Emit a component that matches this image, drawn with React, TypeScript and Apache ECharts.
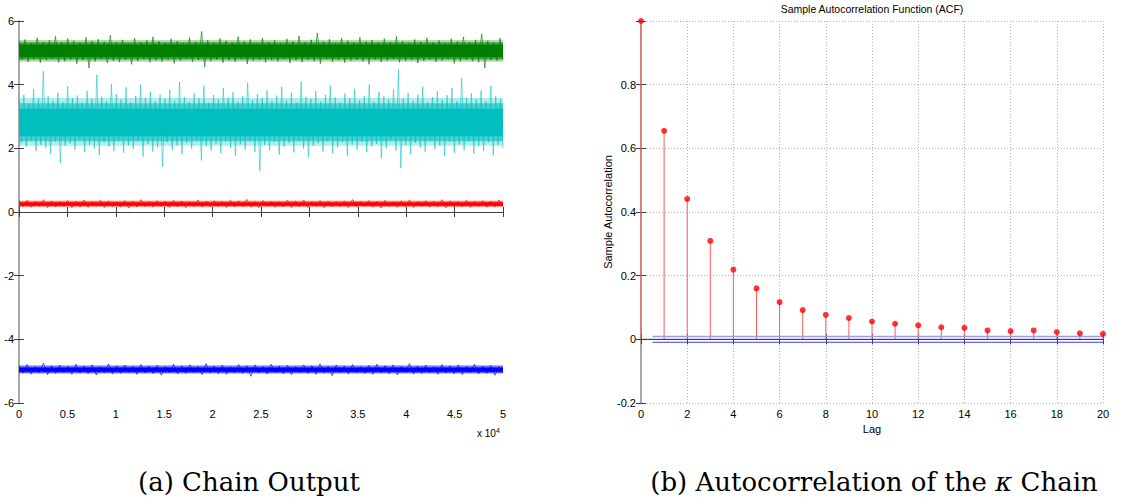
import React, { useEffect, useRef } from "react";
import * as echarts from "echarts";

// ---------- Chain output (a): traces, alternating upper / lower excursions ----------
const chainLength = 50000;
const xTickValues = [0, 0.5, 1, 1.5, 2, 2.5, 3, 3.5, 4, 4.5, 5];

const greenTrace = [
  5.36, 4.78, 5.42, 4.72, 5.31, 4.8, 5.47, 4.69, 5.34, 4.76,
  5.4, 4.81, 5.52, 4.7, 5.33, 4.74, 5.45, 4.79, 5.38, 4.66,
  5.32, 4.77, 5.49, 4.52, 5.37, 4.73, 5.43, 4.8, 5.35, 4.68,
  5.55, 4.75, 5.33, 4.71, 5.41, 4.78, 5.3, 4.64, 5.46, 4.74,
  5.34, 4.8, 5.39, 4.7, 5.5, 4.76, 5.36, 4.73, 5.32, 4.79,
  5.44, 4.67, 5.37, 4.75, 5.31, 4.81, 5.48, 4.72, 5.35, 4.77,
  5.67, 4.55, 5.4, 4.74, 5.33, 4.79, 5.45, 4.69, 5.38, 4.76,
  5.32, 4.72, 5.51, 4.8, 5.36, 4.65, 5.42, 4.75, 5.3, 4.78,
  5.47, 4.7, 5.34, 4.77, 5.39, 4.73, 5.31, 4.81, 5.44, 4.68,
  5.36, 4.76, 5.53, 4.71, 5.33, 4.79, 5.41, 4.74, 5.62, 4.66,
  5.35, 4.8, 5.43, 4.72, 5.3, 4.77, 5.46, 4.69, 5.38, 4.75,
  5.32, 4.78, 5.49, 4.73, 5.36, 4.64, 5.4, 4.79, 5.33, 4.71,
  5.45, 4.76, 5.34, 4.8, 5.52, 4.7, 5.37, 4.74, 5.31, 4.77,
  5.42, 4.68, 5.35, 4.75, 5.47, 4.79, 5.33, 4.72, 5.39, 4.76,
  5.3, 4.8, 5.44, 4.67, 5.36, 4.73, 5.5, 4.78, 5.34, 4.74,
  5.41, 4.7, 5.6, 4.52, 5.38, 4.77, 5.32, 4.75, 5.46, 4.79,
];

const cyanTrace = [
  3.52, 2.18, 3.68, 2.05, 3.41, 2.24, 3.86, 1.92, 3.57, 2.11,
  4.42, 2.02, 3.63, 1.83, 3.49, 2.21, 3.74, 1.54, 3.45, 2.08,
  3.95, 2.16, 3.58, 1.96, 3.66, 2.27, 3.43, 1.88, 3.81, 2.12,
  3.55, 2.0, 4.31, 1.79, 3.62, 2.19, 3.48, 2.06, 4.02, 1.91,
  3.71, 2.23, 3.53, 1.86, 3.92, 2.1, 3.44, 1.98, 3.65, 2.25,
  4.0, 1.74, 3.59, 2.14, 3.78, 1.9, 3.47, 2.03, 3.69, 1.43,
  3.56, 2.2, 3.84, 1.95, 3.5, 2.09, 4.08, 1.81, 3.61, 2.17,
  3.46, 1.99, 3.73, 2.26, 3.58, 1.62, 3.97, 2.07, 3.42, 1.93,
  3.67, 2.15, 3.54, 1.85, 3.89, 2.22, 3.6, 2.01, 3.76, 1.77,
  3.45, 2.13, 3.64, 1.97, 4.05, 2.24, 3.52, 1.89, 3.7, 1.28,
  3.57, 2.11, 3.83, 1.94, 3.48, 2.2, 3.66, 1.8, 3.93, 2.05,
  3.51, 2.18, 3.75, 1.87, 3.44, 2.25, 4.1, 1.99, 3.62, 1.72,
  3.55, 2.08, 3.8, 2.16, 3.47, 1.9, 3.68, 2.23, 3.98, 1.84,
  3.6, 2.03, 3.43, 2.19, 3.72, 1.76, 3.58, 2.12, 3.87, 1.96,
  3.5, 2.21, 3.65, 1.88, 4.0, 2.06, 3.46, 2.14, 3.77, 1.69,
  3.63, 2.0, 3.53, 2.27, 3.85, 1.93, 4.47, 1.38, 3.57, 2.1,
  3.74, 1.82, 3.49, 2.17, 3.69, 2.02, 3.94, 1.89, 3.45, 2.24,
  3.61, 1.97, 3.79, 2.09, 3.52, 1.75, 3.67, 2.2, 3.9, 1.86,
  3.48, 2.13, 4.2, 1.94, 3.59, 2.22, 3.73, 1.83, 3.54, 2.07,
  3.82, 1.92, 3.47, 2.18, 3.96, 1.78, 3.64, 2.11, 3.56, 2.01,
];

const redTrace = [
  0.34, 0.17, 0.37, 0.15, 0.33, 0.18, 0.39, 0.14, 0.35, 0.16,
  0.32, 0.17, 0.36, 0.13, 0.34, 0.16, 0.38, 0.15, 0.33, 0.18,
  0.37, 0.14, 0.35, 0.17, 0.32, 0.15, 0.36, 0.12, 0.34, 0.16,
  0.39, 0.17, 0.33, 0.15, 0.36, 0.18, 0.34, 0.14, 0.37, 0.16,
  0.35, 0.13, 0.32, 0.17, 0.38, 0.15, 0.34, 0.16, 0.36, 0.18,
  0.33, 0.14, 0.37, 0.16, 0.35, 0.17, 0.4, 0.15, 0.33, 0.13,
  0.36, 0.18, 0.34, 0.15, 0.32, 0.16, 0.37, 0.14, 0.35, 0.17,
  0.38, 0.15, 0.33, 0.18, 0.36, 0.13, 0.34, 0.16, 0.32, 0.17,
  0.35, 0.14, 0.39, 0.16, 0.33, 0.18, 0.36, 0.15, 0.34, 0.12,
  0.37, 0.17, 0.32, 0.15, 0.35, 0.16, 0.38, 0.14, 0.33, 0.18,
  0.36, 0.15, 0.34, 0.17, 0.39, 0.13, 0.35, 0.16, 0.32, 0.17,
  0.37, 0.14, 0.33, 0.18, 0.36, 0.15, 0.34, 0.16, 0.38, 0.17,
];

const blueTrace = [
  -4.84, -5.06, -4.79, -5.09, -4.86, -5.05, -4.75, -5.11, -4.83, -5.07,
  -4.81, -5.04, -4.85, -5.1, -4.78, -5.06, -4.84, -5.08, -4.8, -5.12,
  -4.86, -5.05, -4.77, -5.09, -4.83, -5.07, -4.81, -5.04, -4.85, -5.1,
  -4.79, -5.06, -4.84, -5.08, -4.82, -5.13, -4.86, -5.05, -4.78, -5.09,
  -4.83, -5.07, -4.8, -5.04, -4.85, -5.11, -4.76, -5.06, -4.84, -5.08,
  -4.81, -5.1, -4.86, -5.05, -4.79, -5.07, -4.83, -5.16, -4.8, -5.06,
  -4.85, -5.09, -4.78, -5.04, -4.84, -5.08, -4.82, -5.11, -4.86, -5.05,
  -4.8, -5.07, -4.83, -5.1, -4.77, -5.06, -4.85, -5.14, -4.81, -5.04,
  -4.84, -5.09, -4.79, -5.05, -4.86, -5.07, -4.82, -5.1, -4.78, -5.06,
  -4.83, -5.08, -4.8, -5.12, -4.85, -5.04, -4.76, -5.09, -4.84, -5.07,
  -4.81, -5.05, -4.86, -5.1, -4.79, -5.06, -4.83, -5.08, -4.8, -5.11,
  -4.85, -5.04, -4.78, -5.09, -4.84, -5.07, -4.82, -5.13, -4.86, -5.06,
];

// density bands of each trace, outer to inner: [low, high]
const greenBands = [[4.72, 5.4], [4.79, 5.33], [4.86, 5.26]];
const cyanBands = [[2.08, 3.58], [2.22, 3.42], [2.38, 3.24]];
const redBands = [[0.15, 0.36], [0.18, 0.33], [0.2, 0.3]];
const blueBands = [[-5.08, -4.81], [-5.05, -4.85], [-5.02, -4.89]];
const bandOpacity = [0.3, 0.6, 1];

// ---------- ACF (b) ----------
const acfLags = [0, 1, 2, 3, 4, 5, 6, 7, 8, 9, 10, 11, 12, 13, 14, 15, 16, 17, 18, 19, 20];
const acfValues = [
  1.0, 0.655, 0.441, 0.309, 0.219, 0.16, 0.117, 0.092, 0.077, 0.067, 0.056,
  0.049, 0.044, 0.038, 0.036, 0.028, 0.026, 0.028, 0.023, 0.019, 0.017,
];
const confUpper = 0.0088;
const confLower = -0.0092;

const FONT = "'Liberation Sans', Arial, sans-serif";
const SERIF = "'DejaVu Serif', 'Liberation Serif', serif";

function traceData(arr: number[]) {
  return arr.map((v, i) => [(i * chainLength) / (arr.length - 1), v]);
}

function traceSeries(arr: number[], bands: number[][], color: string, opacity: number) {
  return {
    type: "line",
    xAxisIndex: 0,
    yAxisIndex: 0,
    data: traceData(arr),
    symbol: "none",
    lineStyle: { color, width: 1, opacity },
    silent: true,
    markArea: {
      silent: true,
      data: bands.map((b, k) => [
        { xAxis: 0, yAxis: b[0], itemStyle: { color, opacity: bandOpacity[k] } },
        { xAxis: chainLength, yAxis: b[1] },
      ]),
    },
  };
}

const axisDark = "#404040";
const axisLight = "#a8a8a8";

export default function App() {
  const ref = useRef<HTMLDivElement>(null);

  useEffect(() => {
    if (!ref.current) return;
    const chart = echarts.init(ref.current, null, { renderer: "svg" });

    const tickStyle = { show: true, inside: true, length: 5, lineStyle: { color: axisDark } };
    const labelStyle = { color: "#000", fontSize: 11, fontFamily: FONT };

    const option: any = {
      animation: false,
      backgroundColor: "#fff",
      grid: [
        { left: 19, top: 21, width: 484, height: 382 },
        { left: 641, top: 21, width: 462, height: 382 },
      ],
      xAxis: [
        {
          gridIndex: 0, type: "value", min: 0, max: chainLength, interval: 5000, position: "bottom",
          axisLine: { lineStyle: { color: axisDark } }, axisTick: tickStyle,
          axisLabel: { ...labelStyle, margin: 5, formatter: (v: number) => String(xTickValues[Math.round(v / 5000)]) },
          splitLine: { show: false },
        },
        {
          gridIndex: 0, type: "value", min: 0, max: chainLength, interval: 5000, position: "top",
          axisLine: { lineStyle: { color: axisDark } }, axisTick: tickStyle,
          axisLabel: { show: false }, splitLine: { show: false },
        },
        {
          gridIndex: 1, type: "value", min: 0, max: 20, interval: 2, position: "bottom",
          axisLine: { lineStyle: { color: axisDark } }, axisTick: tickStyle,
          axisLabel: { ...labelStyle, margin: 5 },
          splitLine: { show: true, lineStyle: { color: "#b4b4b4", type: [1, 2], width: 1 } },
          name: "Lag", nameLocation: "middle", nameGap: 19,
          nameTextStyle: { color: "#000", fontSize: 11, fontFamily: FONT },
        },
        {
          gridIndex: 1, type: "value", min: 0, max: 20, interval: 2, position: "top",
          axisLine: { lineStyle: { color: axisDark } }, axisTick: tickStyle,
          axisLabel: { show: false }, splitLine: { show: false },
        },
      ],
      yAxis: [
        {
          gridIndex: 0, type: "value", min: -6, max: 6, interval: 2, position: "left",
          axisLine: { lineStyle: { color: axisDark } }, axisTick: tickStyle,
          axisLabel: { ...labelStyle, margin: 5 }, splitLine: { show: false },
        },
        {
          gridIndex: 0, type: "value", min: -6, max: 6, interval: 2, position: "right",
          axisLine: { lineStyle: { color: axisLight, width: 2 } }, axisTick: tickStyle,
          axisLabel: { show: false }, splitLine: { show: false },
        },
        {
          gridIndex: 1, type: "value", min: -0.2, max: 1, interval: 0.2, position: "left",
          axisLine: { lineStyle: { color: axisDark } }, axisTick: tickStyle,
          axisLabel: {
            ...labelStyle, margin: 5,
            formatter: (v: number) => (v > 0.99 ? "" : String(Math.round(v * 10) / 10)),
          },
          splitLine: { show: true, lineStyle: { color: "#b4b4b4", type: [1, 2], width: 1 } },
          name: "Sample Autocorrelation", nameLocation: "middle", nameGap: 26,
          nameTextStyle: { color: "#000", fontSize: 11, fontFamily: FONT },
        },
        {
          gridIndex: 1, type: "value", min: -0.2, max: 1, interval: 0.2, position: "right",
          axisLine: { lineStyle: { color: axisLight, width: 2 } }, axisTick: tickStyle,
          axisLabel: { show: false }, splitLine: { show: false },
        },
      ],
      series: [
        traceSeries(greenTrace, greenBands, "#008000", 0.65),
        traceSeries(cyanTrace, cyanBands, "#00BFBF", 0.55),
        traceSeries(redTrace, redBands, "#FF0000", 0.65),
        traceSeries(blueTrace, blueBands, "#0000FF", 0.65),
        {
          type: "line", xAxisIndex: 2, yAxisIndex: 2, symbol: "none", silent: true,
          data: [[0.5, confUpper], [20, confUpper]],
          lineStyle: { color: "#9a9aff", width: 1.5 },
        },
        {
          type: "line", xAxisIndex: 2, yAxisIndex: 2, symbol: "none", silent: true,
          data: [[0.5, confLower], [20, confLower]],
          lineStyle: { color: "#3a3aff", width: 1 },
        },
        {
          type: "line", xAxisIndex: 2, yAxisIndex: 2, symbol: "none", silent: true,
          data: [[0, 0], [20, 0]],
          lineStyle: { color: "#404040", width: 1 },
        },
        {
          type: "custom", xAxisIndex: 2, yAxisIndex: 2, silent: true, clip: false,
          data: acfValues.map((v, i) => [acfLags[i], v]),
          renderItem: (_p: any, api: any) => {
            const x = api.value(0);
            const y = api.value(1);
            const a = api.coord([x, 0]);
            const b = api.coord([x, y]);
            return {
              type: "line",
              shape: { x1: a[0], y1: a[1], x2: b[0], y2: b[1] },
              style: { stroke: "#ff5a5a", lineWidth: 1 },
            };
          },
        },
        {
          type: "scatter", xAxisIndex: 2, yAxisIndex: 2, silent: true, clip: false,
          data: acfValues.map((v, i) => [acfLags[i], v]),
          symbol: "circle", symbolSize: 6,
          itemStyle: { color: "#ff0000" },
          z: 5,
        },
      ],
      graphic: [
        {
          type: "text", x: 872, y: 9,
          style: {
            text: "Sample Autocorrelation Function (ACF)", fill: "#000",
            font: `10.5px ${FONT}`, textAlign: "center", textVerticalAlign: "middle",
          },
        },
        {
          type: "text", x: 477, y: 433,
          style: {
            text: "{a|x 10}{s|4}", textVerticalAlign: "middle",
            rich: {
              a: { fontSize: 10, fontFamily: FONT, fill: "#000" },
              s: { fontSize: 7, fontFamily: FONT, fill: "#000", verticalAlign: "top", padding: [0, 0, 6, 0] },
            },
          },
        },
        {
          type: "text", x: 249, y: 482,
          style: {
            text: "(a) Chain Output", fill: "#000",
            font: `26px ${SERIF}`, textAlign: "center", textVerticalAlign: "middle",
          },
        },
        {
          type: "text", x: 874, y: 482,
          style: {
            text: "(b) Autocorrelation of the {k|κ} Chain", fill: "#000",
            font: `26px ${SERIF}`, textAlign: "center", textVerticalAlign: "middle",
            rich: { k: { fontSize: 26, fontFamily: SERIF, fontStyle: "italic", fill: "#000" } },
          },
        },
      ],
    };

    chart.setOption(option);
    return () => chart.dispose();
  }, []);

  return (
    <div
      ref={ref}
      style={{ position: "fixed", left: 0, top: 0, width: 1136, height: 504, background: "#fff" }}
    />
  );
}
